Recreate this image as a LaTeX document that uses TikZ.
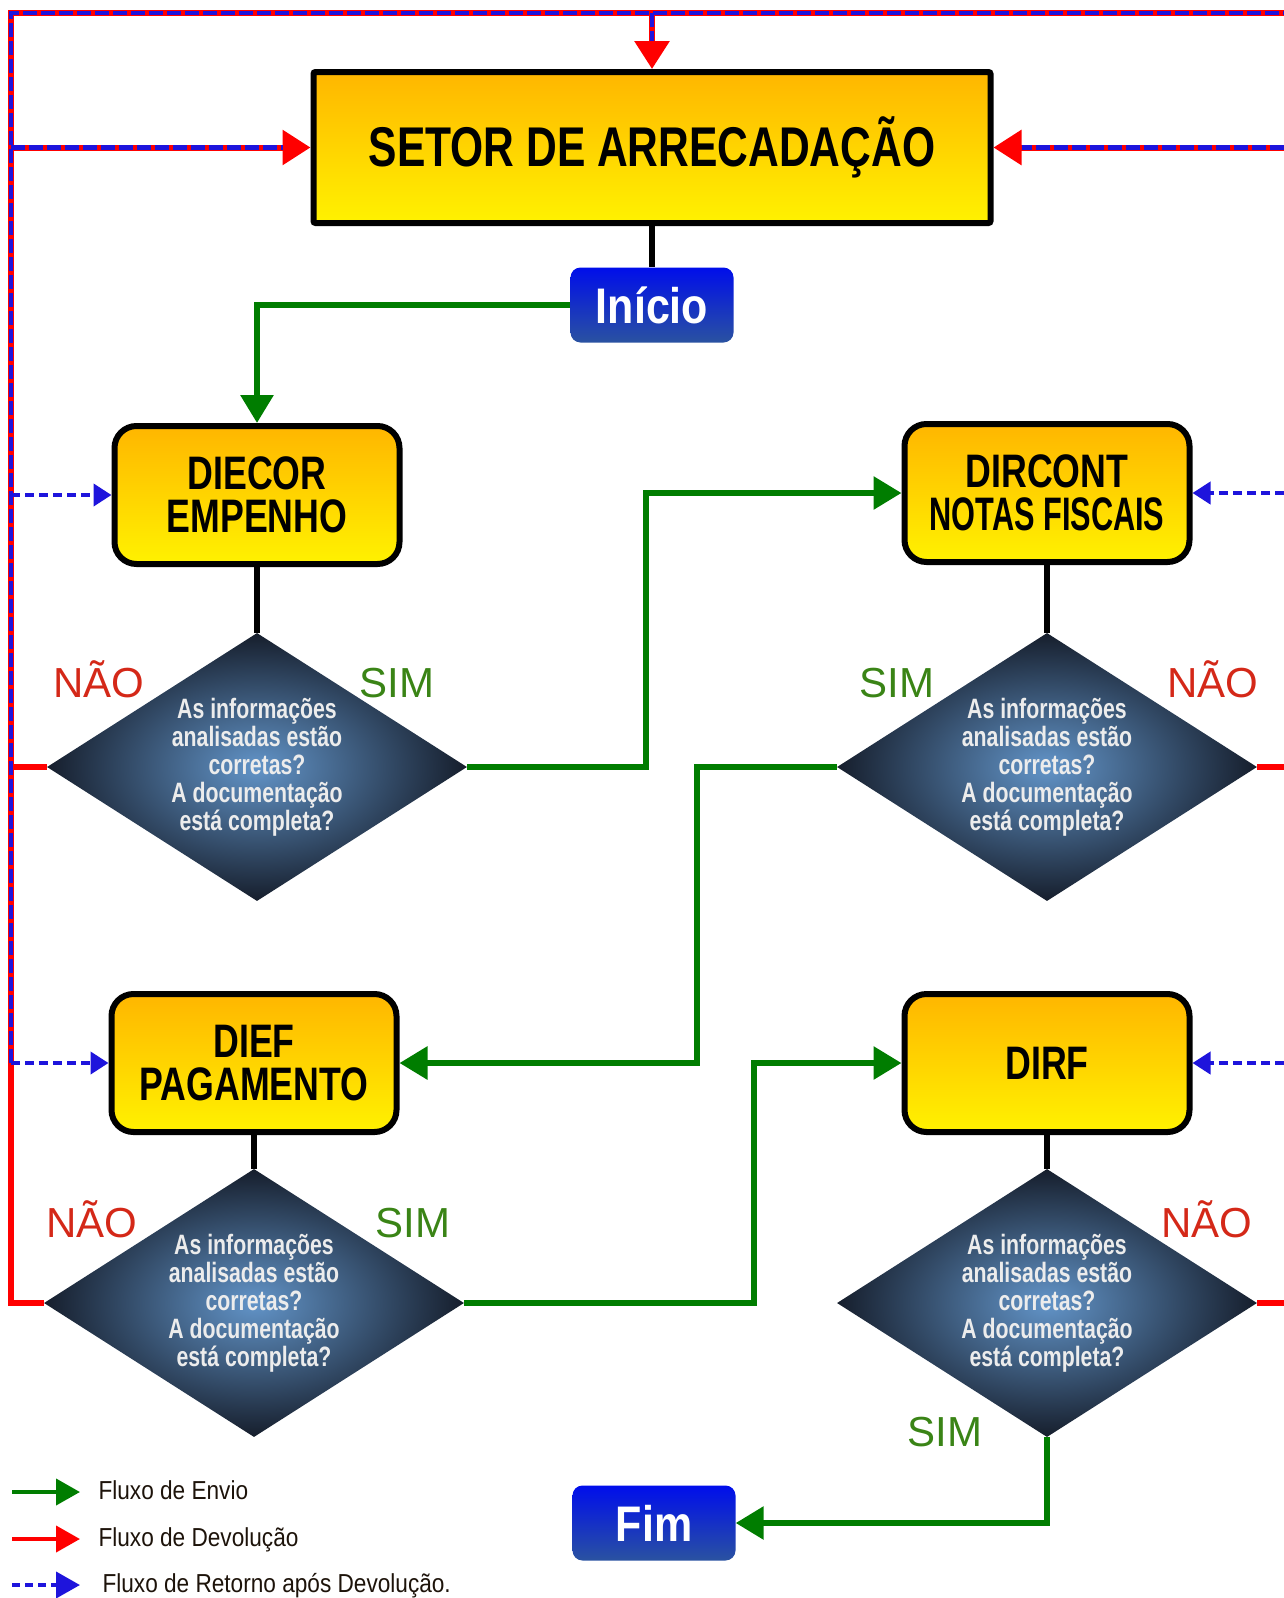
\documentclass[tikz,border=0pt]{standalone}
\usepackage{fontspec}
\setmainfont{Liberation Sans}
\newfontfamily\narrowfont[FakeStretch=0.76]{Liberation Sans}
\newfontfamily\buttonfont[FakeStretch=0.86]{Liberation Sans}
\newfontfamily\legendfont[FakeStretch=0.87]{Liberation Sans}
\usetikzlibrary{arrows.meta,shapes.geometric}

\definecolor{boxtop}{RGB}{255,182,0}
\definecolor{boxbottom}{RGB}{255,242,0}
\definecolor{btntop}{RGB}{0,14,235}
\definecolor{btnbottom}{RGB}{42,82,160}
\definecolor{losinner}{RGB}{98,148,200}
\definecolor{losouter}{RGB}{22,30,44}
\definecolor{envgreen}{RGB}{0,125,0}
\definecolor{devred}{RGB}{255,0,0}
\definecolor{retblue}{RGB}{30,20,220}
\definecolor{naored}{RGB}{212,40,24}
\definecolor{simgreen}{RGB}{58,132,22}
\definecolor{questext}{RGB}{236,236,236}

\begin{document}
\begin{tikzpicture}[x=1pt,y=-1pt]
\tikzset{setorbox/.style = {draw, line width=6pt, rounded corners=2pt, top color=boxtop, bottom color=boxbottom, minimum width=677pt, minimum height=151pt, font=\narrowfont\bfseries\fontsize{56}{60}\selectfont}}
\tikzset{dirbox/.style = {draw, line width=6pt, rounded corners=22pt, top color=boxtop, bottom color=boxbottom, minimum width=285pt, minimum height=138pt, align=center, font=\narrowfont\bfseries\fontsize{47}{43}\selectfont}}
\tikzset{botao/.style = {rounded corners=10pt, top color=btntop, bottom color=btnbottom, text=white, minimum width=163pt, minimum height=75pt, font=\buttonfont\bfseries\fontsize{50}{55}\selectfont}}
\tikzset{decisao/.style = {diamond, aspect=1.567, minimum width=420pt, minimum height=268pt, inner sep=0pt, inner color=losinner, outer color=losouter, text=questext, align=center, font=\narrowfont\bfseries\fontsize{28}{28}\selectfont}}
\tikzset{nao/.style = {anchor=base, text=naored, font=\fontsize{42}{46}\selectfont}}
\tikzset{sim/.style = {anchor=base, text=simgreen, font=\fontsize{42}{46}\selectfont}}
\tikzset{legenda/.style = {anchor=base west, text={black!85!brown}, font=\legendfont\fontsize{26}{30}\selectfont}}
\tikzset{envio/.style = {draw=envgreen, line width=6pt, -{Triangle[length=28pt,width=32pt]}}}
\tikzset{liga/.style = {draw=black, line width=6pt}}
\tikzset{devolucao/.style = {draw=devred, line width=6pt}}
\tikzset{retorno/.style = {draw=retblue, line width=4.5pt, dash pattern=on 14pt off 4pt}}
\tikzset{volta/.style = {draw=retblue, line width=4pt, dash pattern=on 9pt off 5pt, -{Triangle[length=18pt,width=22pt]}}}

\useasboundingbox (0,0) rectangle (1284,1598);

\coordinate (cantoesq) at (11,13);
\coordinate (cantodir) at (1284,13);

\node[setorbox] (setor) at (652,147.5) {SETOR DE ARRECADAÇÃO};
\node[botao] (inicio) at (652,305) {Início};
\node[dirbox] (diecor) at (257,495) {DIECOR\\EMPENHO};
\node[dirbox] (dircont) at (1047,493) {DIRCONT\\\scalebox{0.86}[1]{NOTAS FISCAIS}};
\node[decisao] (d1) at (257,767) {As informações\\analisadas estão\\corretas?\\A documentação\\está completa?};
\node[decisao] (d2) at (1047,767) {As informações\\analisadas estão\\corretas?\\A documentação\\está completa?};
\node[dirbox] (dief) at (254,1063) {DIEF\\PAGAMENTO};
\node[dirbox] (dirf) at (1047,1063) {DIRF};
\node[decisao] (d3) at (254,1303) {As informações\\analisadas estão\\corretas?\\A documentação\\está completa?};
\node[decisao] (d4) at (1047,1303) {As informações\\analisadas estão\\corretas?\\A documentação\\está completa?};
\node[botao] (fim) at (654,1523) {Fim};

% devolucao
\draw[devolucao] (d3.west) -| (cantoesq) -- (cantodir);
\draw[devolucao] (d1.west) -- (d1.west -| cantoesq);
\draw[devolucao] (d2.east) -- (d2.east -| cantodir);
\draw[devolucao] (d4.east) -- (d4.east -| cantodir);
\draw[devolucao, -{Triangle[length=28pt,width=34pt]}] (setor.west -| cantoesq) -- (setor.west);
\draw[devolucao, -{Triangle[length=28pt,width=34pt]}] (setor.east -| cantodir) -- (setor.east);
\draw[devolucao, -{Triangle[length=28pt,width=34pt]}] (setor.north |- cantoesq) -- (setor.north);

% retorno
\draw[retorno] (dief.west -| cantoesq) -- (cantoesq) -- (cantodir);
\draw[retorno, shorten >=28pt] (setor.west -| cantoesq) -- (setor.west);
\draw[retorno, shorten >=28pt] (setor.east -| cantodir) -- (setor.east);
\draw[retorno, shorten >=28pt] (setor.north |- cantoesq) -- (setor.north);
\draw[volta] (diecor.west -| cantoesq) -- (diecor.west);
\draw[volta] (dief.west -| cantoesq) -- (dief.west);
\draw[volta] (dircont.east -| cantodir) -- (dircont.east);
\draw[volta] (dirf.east -| cantodir) -- (dirf.east);

% envio
\draw[liga] (setor) -- (inicio);
\draw[envio] (inicio.west) -| (diecor.north);
\draw[liga] (diecor) -- (d1);
\draw[envio] (d1.east) -- ++(179,0) |- (dircont.west);
\draw[liga] (dircont) -- (d2);
\draw[envio] (d2.west) -- ++(-140,0) |- (dief.east);
\draw[liga] (dief) -- (d3);
\draw[envio] (d3.east) -- ++(290,0) |- (dirf.west);
\draw[liga] (dirf) -- (d4);
\draw[envio] (d4.south) |- (fim.east);

\node[nao] (nao1) at (99,697) {NÃO};
\node[sim] (sim1) at (397,697) {SIM};
\node[sim] (sim2) at (897,697) {SIM};
\node[nao] (nao2) at (1213,697) {NÃO};
\node[nao] (nao3) at (92,1237) {NÃO};
\node[sim] (sim3) at (413,1237) {SIM};
\node[nao] (nao4) at (1207,1237) {NÃO};
\node[sim] (sim4) at (945,1446) {SIM};

% legenda
\coordinate (lg1) at (12,1492);
\coordinate (lg2) at (12,1539);
\coordinate (lg3) at (12,1585);
\node[legenda] (leg1) at (95,1499) {Fluxo de Envio};
\node[legenda] (leg2) at (95,1546) {Fluxo de Devolução};
\node[legenda] (leg3) at (99,1592) {Fluxo de Retorno após Devolução.};
\draw[draw=envgreen, line width=4pt, -{Triangle[length=24pt,width=26pt]}] (lg1) -- ++(68,0);
\draw[draw=devred, line width=4pt, -{Triangle[length=24pt,width=26pt]}] (lg2) -- ++(68,0);
\draw[draw=retblue, line width=4pt, dash pattern=on 8pt off 5pt, -{Triangle[length=24pt,width=26pt]}] (lg3) -- ++(68,0);
\end{tikzpicture}
\end{document}
